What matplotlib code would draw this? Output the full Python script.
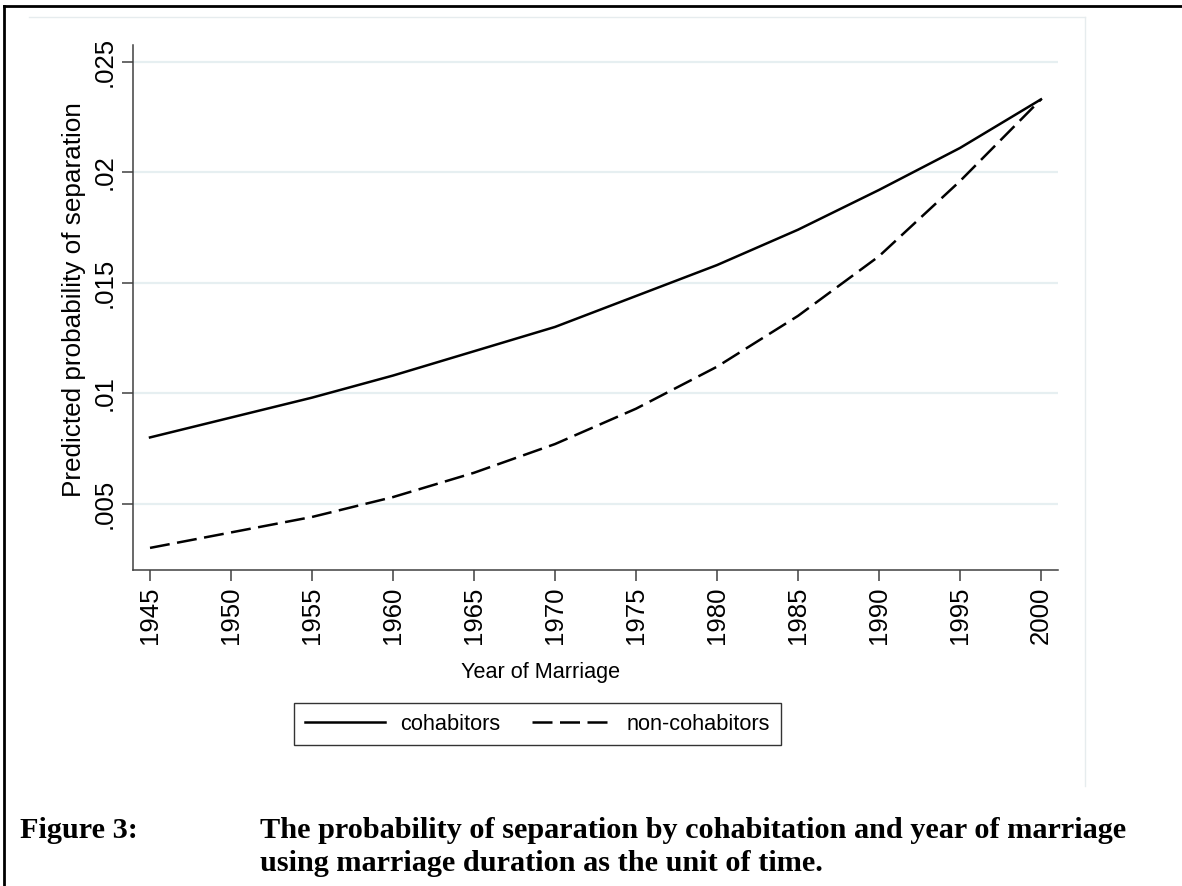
#
########################################################################
# Bibliotecas
########################################################################
#
import matplotlib
matplotlib.use("Agg")
import matplotlib.pyplot as plt
from matplotlib.lines import Line2D

#
########################################################################
# Dados
########################################################################
#
Anos = [1945, 1950, 1955, 1960, 1965, 1970, 1975, 1980, 1985, 1990, 1995, 2000]
Coabitantes = [0.0080, 0.0089, 0.0098, 0.0108, 0.0119, 0.0130,
               0.0144, 0.0158, 0.0174, 0.0192, 0.0211, 0.0233]
NaoCoabitantes = [0.0030, 0.0037, 0.0044, 0.0053, 0.0064, 0.0077,
                  0.0093, 0.0112, 0.0135, 0.0162, 0.0196, 0.0233]
TicksY = [0.005, 0.01, 0.015, 0.02, 0.025]
RotulosY = [".005", ".01", ".015", ".02", ".025"]
Series = ["cohabitors", "non-cohabitors"]

#
########################################################################
# Figura
########################################################################
#
W, H = 1182, 886
Grafico = plt.figure(figsize=(W / 100, H / 100), dpi=100)
plt.rcParams["font.family"] = ["Liberation Sans", "DejaVu Sans"]

def px(x0, y0, x1, y1):
    # caixa em pixels (topo-esquerda) -> fracao da figura
    return [x0 / W, 1 - y1 / H, (x1 - x0) / W, (y1 - y0) / H]

ax = Grafico.add_axes(px(133, 45, 1058, 570))

ax.plot(Anos, Coabitantes, color="black", lw=1.8, label=Series[0])
ax.plot(Anos, NaoCoabitantes, color="black", lw=1.8, dashes=(8, 3),
        label=Series[1])

ax.set_xlim(1943.95, 2001.05)
ax.set_ylim(0.0020, 0.02576)
ax.set_xticks(Anos)
ax.set_xticklabels([str(a) for a in Anos], rotation=90, fontsize=18.5)
ax.set_yticks(TicksY)
ax.set_yticklabels(RotulosY, rotation=90, va="center", fontsize=18.5)
ax.tick_params(direction="out", length=8, width=1.1, color="#404040", pad=4)
ax.grid(axis="y", color="#e6eff1", lw=1.6)
ax.set_axisbelow(True)
for lado in ["top", "right"]:
    ax.spines[lado].set_visible(False)
for lado in ["left", "bottom"]:
    ax.spines[lado].set_color("#404040")
    ax.spines[lado].set_linewidth(1.1)

Grafico.text(74 / W, 1 - 300 / H, "Predicted probability of separation",
             rotation=90, ha="center", va="center", fontsize=18.8)
Grafico.text(541 / W, 1 - 678 / H, "Year of Marriage",
             ha="center", va="baseline", fontsize=15.6)

# legenda
Alcas = [Line2D([], [], color="black", lw=1.8),
         Line2D([], [], color="black", lw=1.8, dashes=(8, 3))]
Leg = Grafico.legend(Alcas, Series, ncol=2, loc="center",
                     bbox_to_anchor=(537.5 / W, 1 - 724 / H),
                     fontsize=15.7, frameon=True, fancybox=False,
                     edgecolor="black", handlelength=3.67, columnspacing=1.45,
                     handletextpad=0.69, borderpad=0.5, borderaxespad=0)
Leg.get_frame().set_linewidth(1.0)

# moldura clara da regiao do grafico
Grafico.add_artist(Line2D([29 / W, 1085 / W], [1 - 17 / H, 1 - 17 / H],
                          color="#e6ecee", lw=1.0))
Grafico.add_artist(Line2D([1085 / W, 1085 / W], [1 - 17 / H, 1 - 786 / H],
                          color="#e6ecee", lw=1.0))

# borda preta do documento
Grafico.add_artist(Line2D([4 / W, 1], [1 - 6 / H, 1 - 6 / H], color="black", lw=2))
Grafico.add_artist(Line2D([4 / W, 4 / W], [1 - 6 / H, 0], color="black", lw=2))

# legenda da figura
Fonte = dict(family=["Liberation Serif", "DejaVu Serif"], fontweight="bold",
             fontsize=21.8, va="baseline")
Grafico.text(20 / W, 1 - 838 / H, "Figure 3:", **Fonte)
Grafico.text(260 / W, 1 - 838 / H,
             "The probability of separation by cohabitation and year of marriage",
             **Fonte)
Grafico.text(260 / W, 1 - 871 / H,
             "using marriage duration as the unit of time.", **Fonte)

Grafico.savefig("out.png", dpi=100)
